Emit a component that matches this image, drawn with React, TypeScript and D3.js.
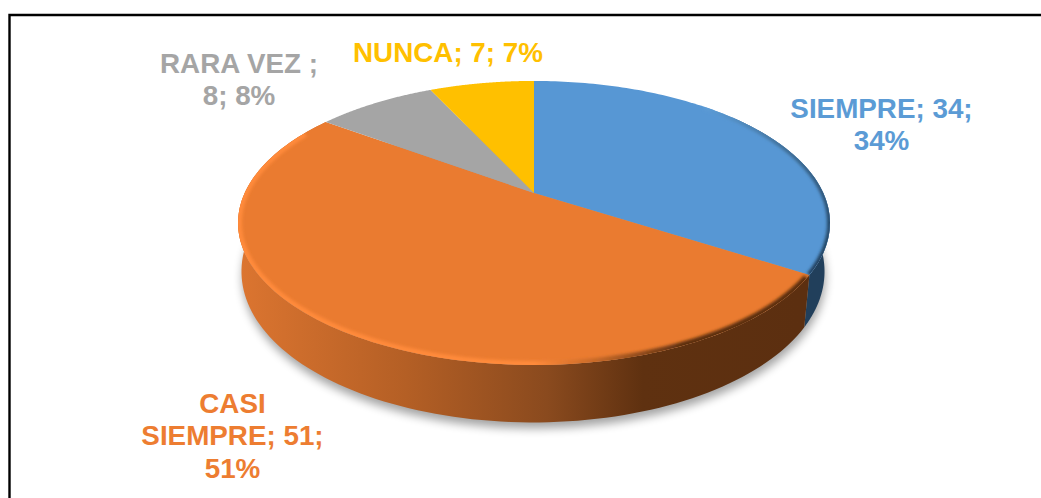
import React from "react";
import * as d3 from "d3";

const categories = ["SIEMPRE", "CASI SIEMPRE", "RARA VEZ", "NUNCA"];
const seriesValues = [34, 51, 8, 7];
const topColors = ["#5797D4", "#EA7B30", "#A5A5A5", "#FFC000"];
const labelLines = [
  ["SIEMPRE; 34;", "34%"],
  ["CASI", "SIEMPRE; 51;", "51%"],
  ["RARA VEZ ;", "8; 8%"],
  ["NUNCA; 7; 7%"],
];
const labelColors = ["#5B9BD5", "#ED7D31", "#A5A5A5", "#FFC000"];
const labelAnchors: [number, number][] = [
  [881.5, 118],
  [232.5, 413],
  [239, 73],
  [448, 62],
];

const W = 1041;
const H = 498;
const CX = 534;
const CY = 193;
const RX = 289.3;
const RY = 135.7;
const K = 0.211;

const topPt = (t: number): [number, number] => {
  const u = Math.sin(t), v = Math.cos(t), p = 1 + K * v;
  return [CX + (RX * u) / p, CY - (RY * v) / p];
};
const botPt = (t: number): [number, number] => {
  const u = Math.sin(t), v = Math.cos(t), p = 1 + K * v, s = 0.985;
  return [CX - 1 + (s * RX * u) / p, CY - (s * RY * v) / p + 46 - 14 * v];
};
const arcPts = (f: (t: number) => [number, number], a: number, b: number) =>
  d3.range(0, 121).map((i) => f(a + ((b - a) * i) / 120));
const line = d3.line();

const arcs = d3.pie<number>().sort(null)(seriesValues);
const FULL = arcPts(topPt, 0, Math.PI * 2);
const BOTTOM = arcPts(botPt, 0, Math.PI * 2);

export default function App() {
  const sideBlue = arcs[0];
  const sideOrange = arcs[1];
  const sidePath = (a: number, b: number) =>
    line([...arcPts(topPt, a, b), ...arcPts(botPt, a, b).reverse()]) + "Z";
  return (
    <svg
      width={W}
      height={H}
      viewBox={`0 0 ${W} ${H}`}
      style={{ position: "absolute", left: 0, top: 0, background: "#fff" }}
      fontFamily="'Liberation Sans', Arial, sans-serif"
    >
      <defs>
        <filter id="shadowBlur" x="-20%" y="-20%" width="140%" height="140%">
          <feGaussianBlur stdDeviation="5" />
        </filter>
        <filter id="rimBlur" x="-10%" y="-10%" width="120%" height="120%">
          <feGaussianBlur stdDeviation="1.8" />
        </filter>
        <linearGradient id="orangeSide" gradientUnits="userSpaceOnUse" x1="238" x2="800" y1="0" y2="0">
          <stop offset="0" stopColor="#DC7530" />
          <stop offset="0.3" stopColor="#B45F25" />
          <stop offset="0.55" stopColor="#8A4A1E" />
          <stop offset="0.72" stopColor="#5F3110" />
          <stop offset="1" stopColor="#5C2F10" />
        </linearGradient>
        <linearGradient id="rimGrad" gradientUnits="userSpaceOnUse" x1="238" x2="830" y1="0" y2="0">
          <stop offset="0" stopColor="#FF8A3A" />
          <stop offset="0.5" stopColor="#FF8A3A" />
          <stop offset="0.6" stopColor="#C96A28" />
          <stop offset="0.75" stopColor="#5C2F10" />
          <stop offset="1" stopColor="#5C2F10" />
        </linearGradient>
        <linearGradient id="blueRim" gradientUnits="userSpaceOnUse" x1="720" x2="832" y1="100" y2="260">
          <stop offset="0" stopColor="#5B9BD5" />
          <stop offset="0.4" stopColor="#3F6E96" />
          <stop offset="1" stopColor="#1F3F5C" />
        </linearGradient>
        <clipPath id="topClip">
          <path d={line(FULL) + "Z"} />
        </clipPath>
      </defs>

      <path d={`M${W + 5} 15 H9.5 V${H + 5}`} fill="none" stroke="#000" strokeWidth={2.4} />

      <path d={line(BOTTOM) + "Z"} fill="#000" opacity={0.36} filter="url(#shadowBlur)" transform="translate(1,6)" />

      <path d={sidePath(sideBlue.startAngle + 0.9, sideBlue.endAngle)} fill="#213F5B" />
      <path d={sidePath(sideOrange.startAngle, sideOrange.endAngle)} fill="url(#orangeSide)" />

      {arcs.map((d, i) => (
        <path
          key={categories[i]}
          d={line([[CX, CY], ...arcPts(topPt, d.startAngle, d.endAngle)]) + "Z"}
          fill={topColors[i]}
        />
      ))}

      <g clipPath="url(#topClip)">
        <path
          d={line(arcPts(topPt, sideOrange.startAngle + 0.02, sideOrange.endAngle - 0.12))!}
          fill="none"
          stroke="url(#rimGrad)"
          strokeWidth={8}
          filter="url(#rimBlur)"
        />
        <path
          d={line(arcPts(topPt, sideBlue.startAngle + 0.75, sideBlue.endAngle))!}
          fill="none"
          stroke="url(#blueRim)"
          strokeWidth={6}
          filter="url(#rimBlur)"
        />
      </g>

      {labelLines.map((lines, i) => (
        <text
          key={categories[i]}
          textAnchor="middle"
          fontSize={27.8}
          fontWeight={700}
          fill={labelColors[i]}
        >
          {lines.map((s, j) => (
            <tspan key={j} x={labelAnchors[i][0]} y={labelAnchors[i][1] + j * 32.3}>
              {s}
            </tspan>
          ))}
        </text>
      ))}
    </svg>
  );
}
